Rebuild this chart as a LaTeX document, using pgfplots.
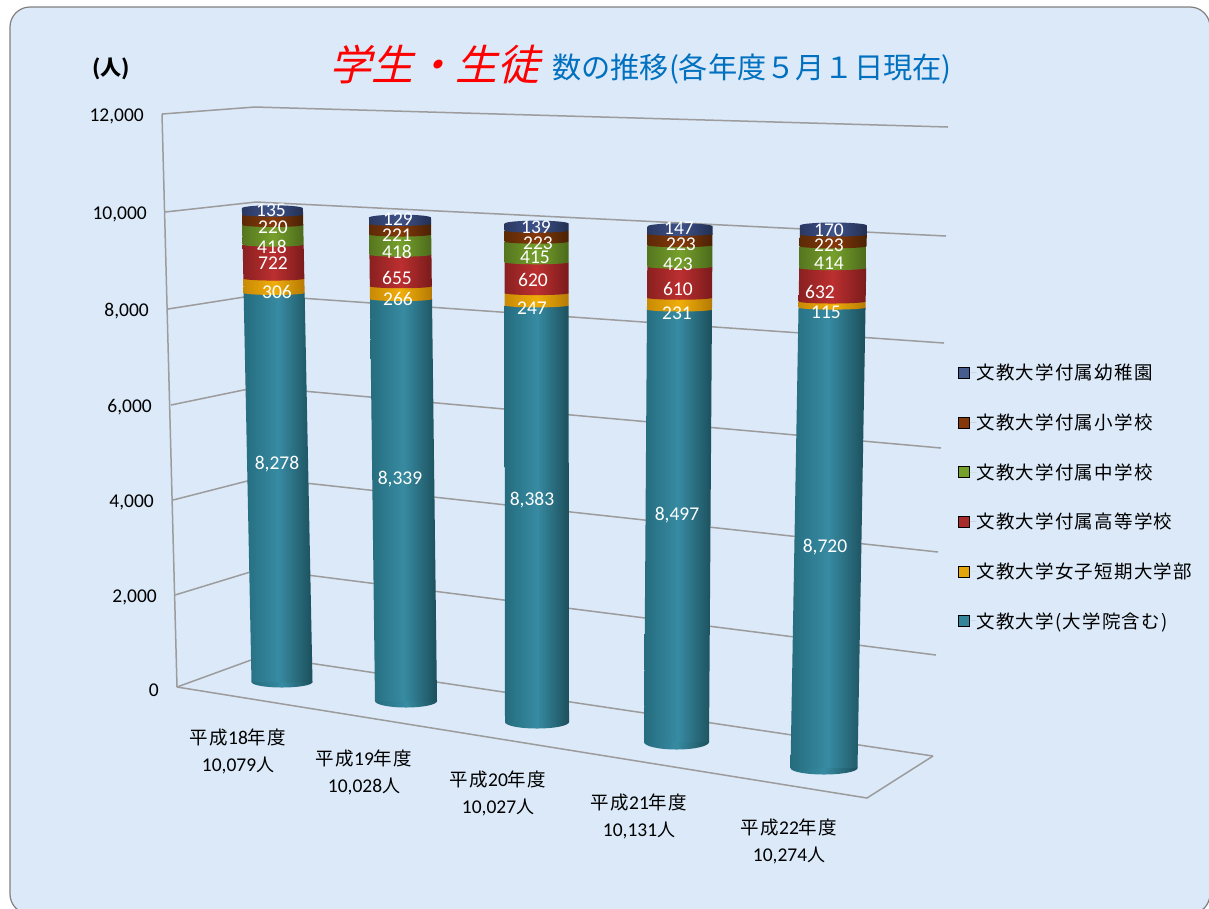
\documentclass[border=0pt]{standalone}
\usepackage{fontspec}
\usepackage{pgfplots}
\pgfplotsset{compat=1.18}
\setmainfont{Carlito}
\newfontfamily\cjk[LetterSpace=6.5]{Noto Sans CJK JP}
\newfontfamily\cjktitle{Noto Sans CJK JP}
\newfontfamily\cjkslant[FakeSlant=0.25]{Noto Sans CJK JP}

\definecolor{panel}{HTML}{DBE9F8}
\definecolor{gridgray}{HTML}{9C9C9C}
% cylinder colours: E left edge, M middle, D right edge
\definecolor{tealE}{HTML}{256C7E}\definecolor{tealM}{HTML}{378BA2}\definecolor{tealD}{HTML}{1C4F5C}
\definecolor{yelE}{HTML}{C98A05}\definecolor{yelM}{HTML}{F0AE0A}\definecolor{yelD}{HTML}{B57A04}
\definecolor{redE}{HTML}{8A2020}\definecolor{redM}{HTML}{BC2F30}\definecolor{redD}{HTML}{7A1B1B}
\definecolor{grnE}{HTML}{56761F}\definecolor{grnM}{HTML}{76A02C}\definecolor{grnD}{HTML}{4C6A1B}
\definecolor{brnE}{HTML}{5C2A06}\definecolor{brnM}{HTML}{85390A}\definecolor{brnD}{HTML}{4A2204}
\definecolor{navE}{HTML}{2A3862}\definecolor{navM}{HTML}{3F5389}\definecolor{navD}{HTML}{232F52}

\def\cw{30}\def\cry{2pt}\def\crb{6pt}

\pgfplotsset{
  canvas/.style={at={(0pt,-908pt)},anchor=south west,width=1209pt,height=908pt,scale only axis,
    xmin=0,xmax=1209,ymin=0,ymax=908,y dir=reverse,hide axis,clip=false},
  grid line/.style={gridgray,line width=1.5pt,forget plot},
  % pixel position of the foot, vector of one person upwards
  cyl axis/.style n args={4}{at={(#1pt,-#2pt)},anchor=origin,hide axis,clip=false,
    x={(1pt,0pt)},y={(#3pt,#4pt)},xmin=-50,xmax=50,ymin=0,ymax=11000},
  vals/.style={only marks,mark=none,point meta=explicit symbolic,nodes near coords,
    nodes near coords style={anchor=center,inner sep=0pt,yshift=-2pt,text=white,font=\fontsize{19.5}{20}\selectfont}},
}
\tikzset{
  seg/.style={draw=none,left color=#1E,right color=#1D,middle color=#1M},
}
% one band of a cylinder between two stacked values
\newcommand\band[3]{%
  \edef\tmp{\noexpand\addplot[seg=#1] coordinates {(-\cw,\the\numexpr#2\relax)(\cw,\the\numexpr#2\relax)(\cw,\the\numexpr#3\relax)(-\cw,\the\numexpr#3\relax)} --cycle;}\tmp}
% one stacked cylinder, values from the bottom up
\newcommand\stack[6]{%
  \path[seg=teal] (axis cs:0,0) ellipse [x radius=\cw pt,y radius=\crb];
  \band{teal}{0}{#1}
  \band{yel}{#1}{#1+#2}
  \band{red}{#1+#2}{#1+#2+#3}
  \band{grn}{#1+#2+#3}{#1+#2+#3+#4}
  \band{brn}{#1+#2+#3+#4}{#1+#2+#3+#4+#5}
  \band{nav}{#1+#2+#3+#4+#5}{#1+#2+#3+#4+#5+#6}
  \path[seg=yel] (axis cs:0,#1) ellipse [x radius=\cw pt,y radius=\cry];
  \path[seg=red] (axis cs:0,#1+#2) ellipse [x radius=\cw pt,y radius=\cry];
  \path[seg=grn] (axis cs:0,#1+#2+#3) ellipse [x radius=\cw pt,y radius=\cry];
  \path[seg=brn] (axis cs:0,#1+#2+#3+#4) ellipse [x radius=\cw pt,y radius=\cry];
  \path[seg=nav] (axis cs:0,#1+#2+#3+#4+#5) ellipse [x radius=\cw pt,y radius=\cry];
  \path[seg=nav] (axis cs:0,#1+#2+#3+#4+#5+#6) ellipse [x radius=\cw pt,y radius=3pt];
}
\newcommand\xlab[4]{%
  \node[font=\fontsize{19.5}{20}\selectfont] at (axis cs:#1,#2) {{\cjk\fontsize{18.5}{20}\selectfont 平成}#3{\cjk\fontsize{18.5}{20}\selectfont 年度}};
  \node[font=\fontsize{19.5}{20}\selectfont] at (axis cs:#1,#2+28) {#4{\cjk\fontsize{18}{20}\selectfont 人}};
}

\begin{document}
\begin{tikzpicture}
\path[use as bounding box] (0pt,0pt) rectangle (1209pt,-908pt);
\draw[fill=panel,draw=gray,line width=1.2pt,rounded corners=20pt] (10pt,-7pt) rectangle (1210pt,-914pt);

\begin{axis}[canvas,
  legend style={at={(axis cs:958,364)},anchor=north west,draw=none,fill=none,inner sep=0pt,
    row sep=32.5pt,nodes={inner sep=0pt},font=\cjk\fontsize{18.5}{24}\selectfont},
  legend cell align=left,
  legend image code/.code={\fill[#1] (0pt,-5.5pt) rectangle (11pt,5.5pt);\path[draw=none] (0pt,0pt) -- (18pt,0pt);},
]
% walls and floor
\addplot[grid line] coordinates {(162,114)(255,107)(948,127)};
\addplot[grid line] coordinates {(165,212)(256,202)(946,236)};
\addplot[grid line] coordinates {(168,309)(257,295)(944,343)};
\addplot[grid line] coordinates {(171,405)(258,387)(941,448)};
\addplot[grid line] coordinates {(173,500)(259,478)(938,552)};
\addplot[grid line] coordinates {(175,595)(260,569)(936,655)};
\addplot[grid line] coordinates {(177,687)(262,656)(933,756)};
\addplot[grid line] coordinates {(162,114)(177,687)};
\addplot[grid line] coordinates {(177,687)(867,798)(933,756)};

\addlegendimage{fill=navM!95!white}\addlegendentry{文教大学付属幼稚園}
\addlegendimage{fill=brnM}\addlegendentry{文教大学付属小学校}
\addlegendimage{fill=grnM}\addlegendentry{文教大学付属中学校}
\addlegendimage{fill=redM!90!black}\addlegendentry{文教大学付属高等学校}
\addlegendimage{fill=yelM!95!black}\addlegendentry{文教大学女子短期大学部}
\addlegendimage{fill=tealM!95!black}\addlegendentry{文教大学(大学院含む)}

% y axis numbers
\addplot[only marks,mark=none,forget plot,point meta=explicit symbolic,nodes near coords,
  nodes near coords style={anchor=east,inner sep=0pt,yshift=-2pt,font=\fontsize{19.5}{20}\selectfont}]
  table[meta=l] {
x y l
144 114 12,000
147 212 10,000
149 309 8,000
152 405 6,000
154 500 4,000
157 595 2,000
159 688 0
};

\node[font=\cjktitle\bfseries\fontsize{21}{22}\selectfont] at (axis cs:111,69) {(人)};
\node[anchor=west,inner sep=0pt,text=red,font=\cjkslant\fontsize{42}{44}\selectfont] at (axis cs:329,64) {学生・生徒};
\node[anchor=west,inner sep=0pt,text={rgb,255:red,0;green,112;blue,192},font=\cjktitle\fontsize{29.2}{30}\selectfont] at (axis cs:552,69) {数の推移(各年度５月１日現在)};

\xlab{238}{737}{18}{10,079}
\xlab{364}{758}{19}{10,028}
\xlab{498}{779}{20}{10,027}
\xlab{639}{802}{21}{10,131}
\xlab{789}{827}{22}{10,274}
\end{axis}

\def\cw{30.5}\def\crb{5.5pt}
\begin{axis}[cyl axis={282}{682}{-0.00094}{0.047}]
\stack{8278}{306}{722}{418}{220}{135}
\end{axis}
\def\cw{31}\def\crb{6.5pt}
\begin{axis}[cyl axis={406}{701}{-0.0006}{0.0482}]
\stack{8339}{266}{655}{418}{221}{129}
\end{axis}
\def\cw{32}\def\crb{6.5pt}
\begin{axis}[cyl axis={537}{722}{-0.00005}{0.0497}]
\stack{8383}{247}{620}{415}{223}{139}
\end{axis}
\def\cw{32.5}\def\crb{7.5pt}
\begin{axis}[cyl axis={676.5}{742}{0.00035}{0.0509}]
\stack{8497}{231}{610}{423}{223}{147}
\end{axis}
\def\cw{33.5}\def\crb{6.5pt}
\begin{axis}[cyl axis={824}{768}{0.00092}{0.0528}]
\stack{8720}{115}{632}{414}{223}{170}
\end{axis}

% value labels on the cylinders
\begin{axis}[canvas]
\addplot[vals] table[meta=l] {
x y l
271 208 135
273 225 220
272 245 418
273 261 722
277 290 306
277 462 8,278
398 217 129
397 233 221
397 250 418
397 276 655
398 297 266
400 477 8,339
536 225 139
538 241 223
535 255 415
533 278 620
532 306 247
532 498 8,383
679 226 147
681 242 223
678 262 423
678 287 610
677 311 231
677 513 8,497
829 228 170
829 243 223
829 261 414
820 290 632
826 310 115
825 545 8,720
};
\end{axis}
\end{tikzpicture}
\end{document}
